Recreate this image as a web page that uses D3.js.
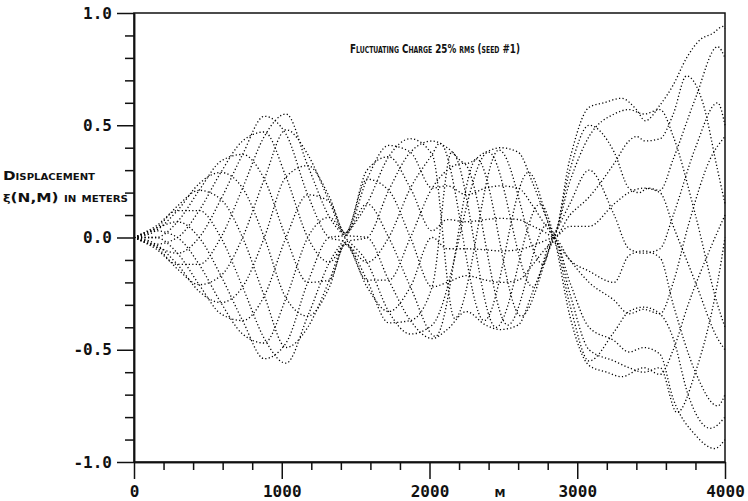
<!DOCTYPE html>
<html>
<head>
<meta charset="utf-8">
<style>
    body { margin: 0; background: #fff; }
    .axis path, .axis line { stroke: #111; stroke-width: 1.5px; }
    .axis text { font: bold 16px "DejaVu Sans Mono", monospace; fill: #111; }
    .bunch { fill: none; stroke: #000; stroke-width: 1.3px; stroke-dasharray: 1.2 2.3; }
    .label { font-family: "DejaVu Sans", sans-serif; font-weight: bold; fill: #111; font-variant: small-caps; }
</style>
</head>
<body>
<div id="chart"></div>
<script src="https://cdn.jsdelivr.net/npm/d3@7"></script>
<script>

// tick values
const yMajorTicks = [-1, -0.5, 0, 0.5, 1];
const yMinorTicks = [-0.9, -0.8, -0.7, -0.6, -0.4, -0.3, -0.2, -0.1, 0.1, 0.2, 0.3, 0.4, 0.6, 0.7, 0.8, 0.9];
const xMajorTicks = [0, 1000, 2000, 3000, 4000];
const xMinorTicks = [200, 400, 600, 800, 1200, 1400, 1600, 1800, 2200, 2400, 2600, 2800, 3200, 3400, 3600, 3800];

// displacement xi(N,M) per bunch, [M, metres]
const bunch0 = [[0,0],[147,.04],[294,.07],[441,0],[588,-.17],[735,-.37],[882,-.54],[1029,-.47],[1176,-.2],[1323,0],[1430,.01],
    [1577,.26],[1724,.41],[1871,.38],[2018,.22],[2120,.23],[2250,.19],[2380,.22],[2480,.23],[2600,.22],[2700,.14],[2790,.05],[2840,.01],
    [2950,.35],[3080,.58],[3180,.6],[3300,.62],[3400,.57],[3460,.52],[3560,.59],[3650,.68],[3740,.8],[3830,.88],[3920,.91],[3985,.94],[4000,.93]];
const bunch1 = [[0,0],[147,.03],[294,0],[441,-.12],[588,-.29],[735,-.43],[882,-.47],[1029,-.27],[1176,0],[1323,.09],[1430,.02],
    [1577,.30],[1724,.36],[1871,.22],[2018,.03],[2120,.08],[2250,.07],[2380,.08],[2480,.085],[2600,.08],[2700,.05],[2790,.02],[2840,0],
    [2950,.1],[3080,.18],[3250,.33],[3350,.43],[3400,.45],[3460,.43],[3560,.44],[3650,.55],[3740,.72],[3850,.6],[3950,.3],[4000,.15]];
const bunch2 = [[0,0],[147,0],[294,-.07],[441,-.21],[588,-.34],[735,-.37],[882,-.26],[1029,0],[1176,.19],[1323,.16],[1430,.02],
    [1577,.26],[1724,.21],[1871,0],[2018,-.22],[2120,-.2],[2250,-.17],[2380,-.19],[2480,-.2],[2600,-.19],[2700,-.12],[2790,-.045],[2840,-.01],
    [2950,.3],[3080,.5],[3250,.38],[3350,.22],[3420,.2],[3480,.22],[3560,.21],[3650,.35],[3800,.62],[3950,.85],[4000,.8]];
const bunch3 = [[0,0],[147,-.03],[294,-.12],[441,-.24],[588,-.29],[735,-.22],[882,0],[1029,.27],[1176,.32],[1323,.18],[1430,.02],
    [1577,.15],[1724,0],[1871,-.22],[2040,-.44],[2320,.35],[2620,-.35],[2840,0],
    [2950,.15],[3080,.3],[3250,.1],[3350,-.05],[3450,-.07],[3560,-.05],[3650,.1],[3800,.4],[3950,.6],[4000,.5]];
const bunch4 = [[0,0],[147,-.04],[294,-.14],[441,-.21],[588,-.17],[735,0],[882,.26],[1029,.48],[1176,.37],[1323,.16],[1430,.01],
    [1577,0],[1724,-.19],[1871,-.37],[2018,-.45],[2120,-.41],[2250,-.33],[2380,-.39],[2480,-.41],[2600,-.39],[2700,-.24],[2790,-.09],[2840,-.02],
    [2950,-.3],[3080,-.55],[3250,-.42],[3350,-.33],[3450,-.31],[3560,-.34],[3650,-.45],[3750,-.7],[3900,-.85],[4000,-.8]];
const bunch5 = [[0,0],[147,-.05],[294,-.12],[441,-.12],[588,0],[735,.22],[882,.45],[1029,.55],[1176,.32],[1323,.09],[1430,0],
    [1577,-.11],[1724,-.33],[1871,-.43],[2018,-.39],[2400,.38],[2700,-.22],[2840,0],
    [2950,-.2],[3080,-.4],[3250,-.46],[3350,-.51],[3450,-.49],[3560,-.52],[3650,-.72],[3800,-.88],[3930,-.94],[4000,-.9]];
const bunch6 = [[0,0],[147,-.04],[294,-.07],[441,0],[588,.17],[735,.37],[882,.54],[1029,.46],[1176,.19],[1323,0],[1430,-.02],
    [1577,-.19],[1724,-.38],[1871,-.37],[2018,-.22],[2150,.38],[2450,-.4],[2750,.15],[2840,.01],
    [2950,-.35],[3080,-.57],[3200,-.6],[3300,-.62],[3450,-.58],[3560,-.61],[3650,-.5],[3750,-.3],[3900,-.05],[4000,.1]];
const bunch7 = [[0,0],[147,-.03],[294,0],[441,.12],[588,.29],[735,.43],[882,.47],[1029,.27],[1176,0],[1323,-.11],[1430,-.03],
    [1577,-.22],[1724,-.33],[1871,-.22],[2018,0],[2120,-.05],[2250,-.05],[2380,-.055],[2480,-.06],[2600,-.055],[2700,-.035],[2790,-.012],[2840,0],
    [2950,-.1],[3080,-.15],[3250,-.2],[3350,-.08],[3450,-.06],[3560,-.09],[3650,-.3],[3800,-.6],[3950,-.75],[4000,-.7]];
const bunch8 = [[0,0],[147,0],[294,.07],[441,.21],[588,.34],[735,.37],[882,.26],[1029,0],[1176,-.2],[1323,-.19],[1430,-.03],
    [1577,-.19],[1724,-.19],[1871,0],[2018,.22],[2230,.33],[2530,-.39],[2800,.06],[2840,0],
    [2950,.05],[3080,.05],[3250,.15],[3350,.2],[3450,.22],[3560,.2],[3650,.05],[3800,-.2],[3950,-.45],[4000,-.5]];
const bunch9 = [[0,0],[147,.03],[294,.12],[441,.24],[588,.29],[735,.22],[882,0],[1029,-.27],[1176,-.35],[1323,-.22],[1430,-.03],
    [1577,-.11],[1724,0],[1871,.22],[2018,.37],[2070,.42],[2370,-.37],[2670,.29],[2840,0],
    [2950,-.1],[3080,-.2],[3250,-.28],[3350,-.34],[3450,-.32],[3560,-.34],[3650,-.2],[3750,.05],[3900,.35],[4000,.45]];
const bunch10 = [[0,0],[147,.04],[294,.14],[441,.21],[588,.17],[735,0],[882,-.26],[1029,-.49],[1176,-.4],[1323,-.19],[1430,-.02],
    [1577,0],[1724,.21],[1871,.38],[2018,.43],[2120,.40],[2250,.33],[2380,.38],[2480,.40],[2600,.38],[2700,.24],[2790,.09],[2840,.02],
    [2950,.25],[3080,.45],[3250,.55],[3350,.57],[3450,.55],[3560,.57],[3650,.45],[3800,.1],[3950,-.3],[4000,-.4]];
const bunch11 = [[0,0],[147,.05],[294,.12],[441,.12],[588,0],[735,-.22],[882,-.45],[1029,-.56],[1176,-.35],[1323,-.11],[1430,0],
    [1577,.15],[1724,.36],[1871,.44],[2018,.37],[2170,-.36],[2470,.39],[2770,-.12],[2840,0],
    [2950,-.25],[3080,-.5],[3250,-.55],[3350,-.58],[3450,-.6],[3560,-.58],[3675,-.78],[3800,-.6],[3950,-.2],[4000,0]];

const bunches = [bunch0, bunch1, bunch2, bunch3, bunch4, bunch5, bunch6, bunch7, bunch8, bunch9, bunch10, bunch11];

const svg = d3.select("#chart").append("svg")
    .attr("width", 748)
    .attr("height", 501);

const x = d3.scaleLinear().domain([0, 4000]).range([134, 725]);
const y = d3.scaleLinear().domain([-1, 1]).range([462, 13]);

// curves first so the frame sits on top
const line = d3.line()
    .curve(d3.curveMonotoneX)
    .x(function (d) { return x(d[0]); })
    .y(function (d) { return y(d[1]); });

svg.append("g").selectAll("path")
    .data(bunches)
    .enter().append("path")
    .attr("class", "bunch")
    .attr("d", line);

// frame
svg.append("rect")
    .attr("x", x(0)).attr("y", y(1))
    .attr("width", x(4000) - x(0)).attr("height", y(-1) - y(1))
    .attr("fill", "none").attr("stroke", "#111").attr("stroke-width", 1.5);

// y axis, major + minor
svg.append("g")
    .attr("class", "axis")
    .attr("transform", "translate(" + x(0) + ",0)")
    .call(d3.axisLeft(y).tickValues(yMajorTicks).tickSize(17).tickSizeOuter(0).tickPadding(5)
        .tickFormat(function (d) { return d.toFixed(1); }));
svg.append("g")
    .attr("class", "axis")
    .attr("transform", "translate(" + x(0) + ",0)")
    .call(d3.axisLeft(y).tickValues(yMinorTicks).tickSize(9).tickSizeOuter(0).tickFormat(""));

// x axis, major + minor
svg.append("g")
    .attr("class", "axis")
    .attr("transform", "translate(0," + y(-1) + ")")
    .call(d3.axisBottom(x).tickValues(xMajorTicks).tickSize(17).tickSizeOuter(0).tickPadding(7)
        .tickFormat(d3.format("d")));
svg.append("g")
    .attr("class", "axis")
    .attr("transform", "translate(0," + y(-1) + ")")
    .call(d3.axisBottom(x).tickValues(xMinorTicks).tickSize(8).tickSizeOuter(0).tickFormat(""));

// texts
svg.append("text")
    .attr("class", "label")
    .attr("x", 350).attr("y", 53)
    .attr("textLength", 170).attr("lengthAdjust", "spacingAndGlyphs")
    .style("font-size", "11.5px")
    .text("Fluctuating Charge 25% rms (seed #1)");

svg.append("text")
    .attr("class", "label")
    .attr("x", 3).attr("y", 180)
    .attr("textLength", 92).attr("lengthAdjust", "spacingAndGlyphs")
    .style("font-size", "12px")
    .text("Displacement");

const yLab2 = svg.append("text")
    .attr("class", "label")
    .attr("x", 3).attr("y", 202)
    .attr("textLength", 125).attr("lengthAdjust", "spacingAndGlyphs")
    .style("font-size", "12px");
yLab2.append("tspan").style("font-variant", "normal").style("font-size", "10px").text("\u03be");
yLab2.append("tspan").text("(N,M) in meters");

svg.append("text")
    .attr("class", "label")
    .attr("x", 500).attr("y", 497)
    .attr("text-anchor", "middle")
    .style("font-size", "11px")
    .text("M");

</script>
</body>
</html>
